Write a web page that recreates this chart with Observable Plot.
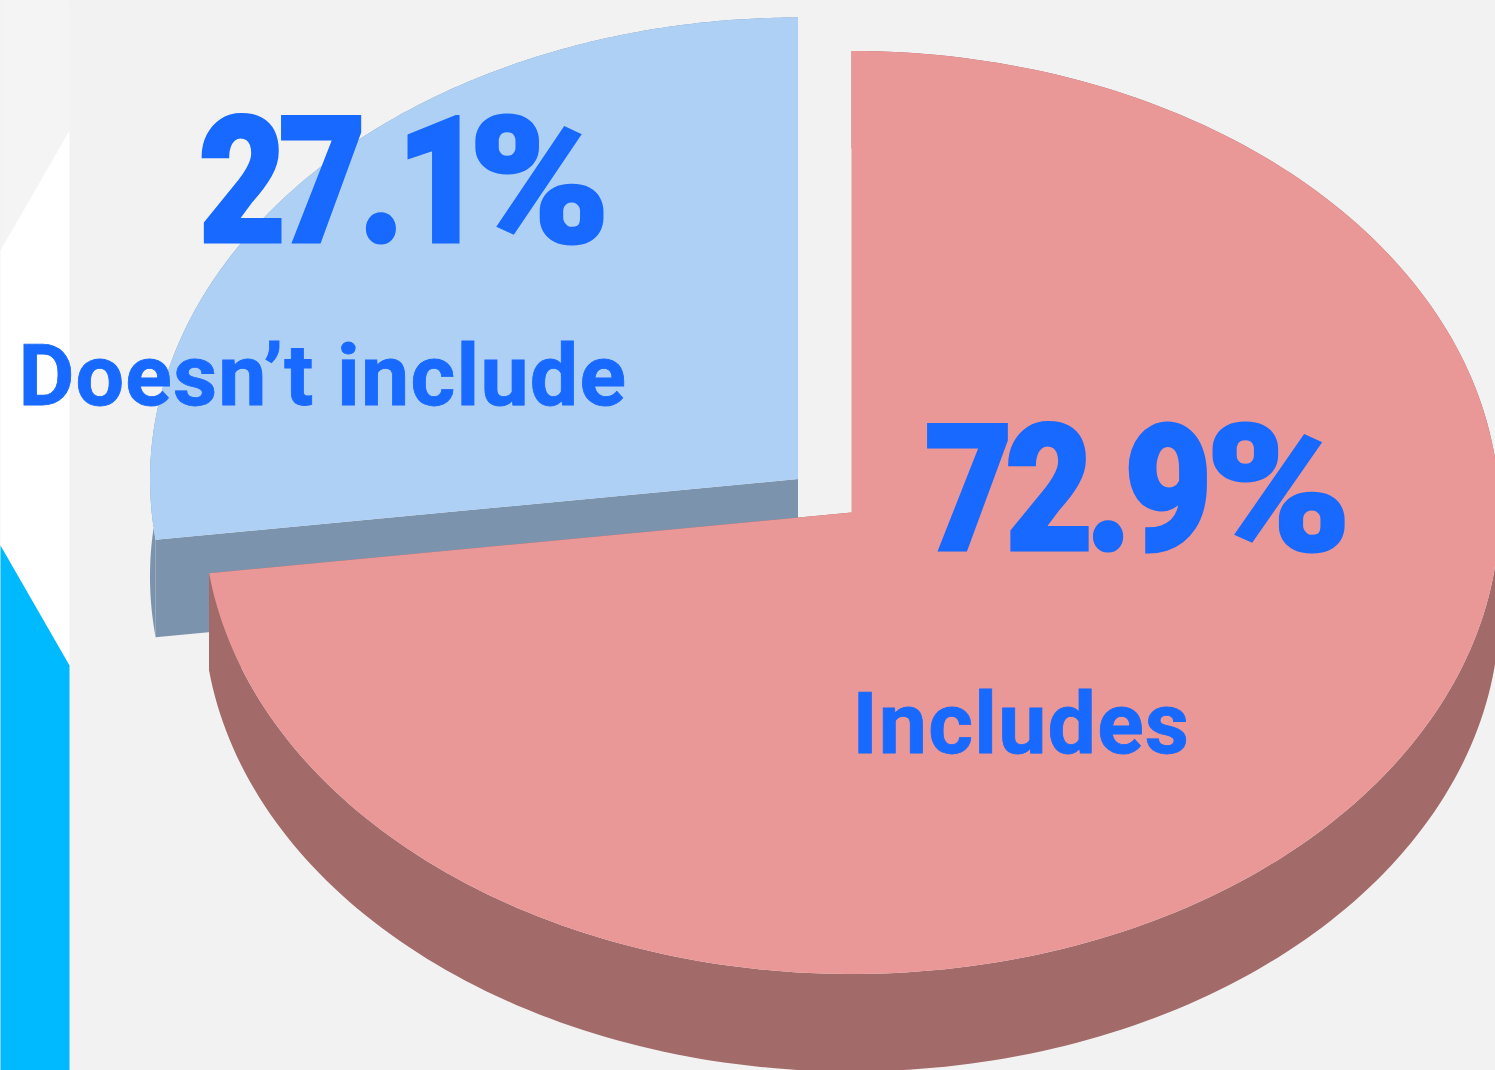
<!DOCTYPE html>
<html>
<head>
<meta charset="utf-8">
<script src="https://cdn.jsdelivr.net/npm/d3@7"></script>
<script src="https://cdn.jsdelivr.net/npm/@observablehq/plot@0.6"></script>
<style>
html,body{margin:0;padding:0;background:#f2f2f2;}
svg{display:block;}
.big{letter-spacing:-9px;stroke-linejoin:miter;}
.small{letter-spacing:1.2px;stroke-linejoin:miter;}
</style>
</head>
<body>
<div id="chart"></div>
<script>
const categories = ["Doesn\u2019t include", "Includes"];
const shares = [27.1, 72.9];
const shareLabels = ["27.1%", "72.9%"];
const numberWidths = [278, 280];
const percentOffsets = [270, 281];
const percentWidths = [132, 136];

const W = 1495, H = 1070;
const rx = 648, ry = 461.5, depth = 97.5;
const colors = {
  bg: "#f2f2f2", strip: "#f4f4f4", white: "#ffffff", cyan: "#00baff",
  blueTop: "#afd0f5", blueSide: "#7c93ad", pinkTop: "#e99797", pinkSide: "#a26a68",
  text: "#1769ff"
};

// Angle swept by each slice, from 12 o'clock
const sweep = shares.map(s => s / 100 * 2 * Math.PI);

function arc(cx, cy, from, to, dy = 0) {
  const n = 240, out = [];
  for (let i = 0; i <= n; i++) {
    const a = from + (to - from) * i / n;
    out.push([cx + rx * Math.sin(a), cy - ry * Math.cos(a) + dy]);
  }
  return out;
}
function tag(points, id, color) {
  return points.map(([x, y]) => ({x, y, id, color}));
}
// Doesn't include: sweeps counter-clockwise from 12 o'clock. Includes: the rest, clockwise.
const blue = {cx: 797.5, cy: 478.5, from: -sweep[0], to: 0};
const pink = {cx: 851, cy: 512, from: 0, to: sweep[1]};

function sliceLayers(s, topColor, sideColor, key) {
  const top = arc(s.cx, s.cy, s.from, s.to);
  const low = arc(s.cx, s.cy, s.from, s.to, depth);
  const wall = [...top, ...low.slice().reverse()];
  return [
    ...tag(wall, key + "-wall", sideColor),
    ...tag(cutFaces(s, key), key + "-cut", sideColor),
    ...tag([[s.cx, s.cy], ...top], key + "-top", topColor)
  ];
}
function cutFaces(s, key) {
  // the radial face that faces the viewer: the edge away from 12 o'clock
  const a = key === "blue" ? s.from : s.to;
  const p = [s.cx + rx * Math.sin(a), s.cy - ry * Math.cos(a)];
  return [[s.cx, s.cy], p, [p[0], p[1] + depth], [s.cx, s.cy + depth]];
}

const backdrop = [
  ...tag([[0,0],[69,0],[69,1070],[0,1070]], "strip", colors.strip),
  ...tag([[0,250],[69,130],[69,665],[0,545]], "white", colors.white),
  ...tag([[0,545],[69,665],[69,1070],[0,1070]], "cyan", colors.cyan)
];
const shapes = [
  ...backdrop,
  ...sliceLayers(blue, colors.blueTop, colors.blueSide, "blue"),
  ...sliceLayers(pink, colors.pinkTop, colors.pinkSide, "pink")
];

const bigLabels = [
  {x: 198, y: 241, text: shareLabels[0]},
  {x: 924, y: 549, text: shareLabels[1]}
];
const nameLabels = [
  {x: 18, y: 404, text: categories[0]},
  {x: 852, y: 752, text: categories[1]}
];

const chart = Plot.plot({
  width: W, height: H,
  marginTop: 0, marginRight: 0, marginBottom: 0, marginLeft: 0,
  x: {domain: [0, W], range: [0, W], axis: null},
  y: {domain: [0, H], range: [0, H], axis: null},
  color: {type: "identity"},
  style: {background: colors.bg},
  marks: [
    Plot.line(shapes, {x: "x", y: "y", z: "id", fill: "color", stroke: null, clip: true}),
    Plot.text(bigLabels, {x: "x", y: "y", text: "text", textAnchor: "start", lineAnchor: "bottom",
      fontFamily: "Roboto", fontWeight: 900, fontSize: 176, fill: colors.text,
      stroke: colors.text, strokeWidth: 3, className: "big"}),
    Plot.text(nameLabels, {x: "x", y: "y", text: "text", textAnchor: "start", lineAnchor: "bottom",
      fontFamily: "Roboto", fontWeight: 700, fontSize: 86, fill: colors.text,
      stroke: colors.text, strokeWidth: 0.8, className: "small"})
  ]
});
// The reference's digits are a narrower cut of the face, its percent sign a wider one:
// one text element, with the digits and the sign fitted separately.
d3.select(chart).selectAll(".big text").each(function (_, i) {
  const label = shareLabels[i];
  const text = d3.select(this).text("");
  text.append("tspan").text(label.slice(0, -1))
    .attr("textLength", numberWidths[i]).attr("lengthAdjust", "spacingAndGlyphs");
  text.append("tspan").text(label.slice(-1))
    .attr("x", percentOffsets[i])
    .attr("textLength", percentWidths[i]).attr("lengthAdjust", "spacingAndGlyphs");
});
document.getElementById("chart").append(chart);
</script>
</body>
</html>
